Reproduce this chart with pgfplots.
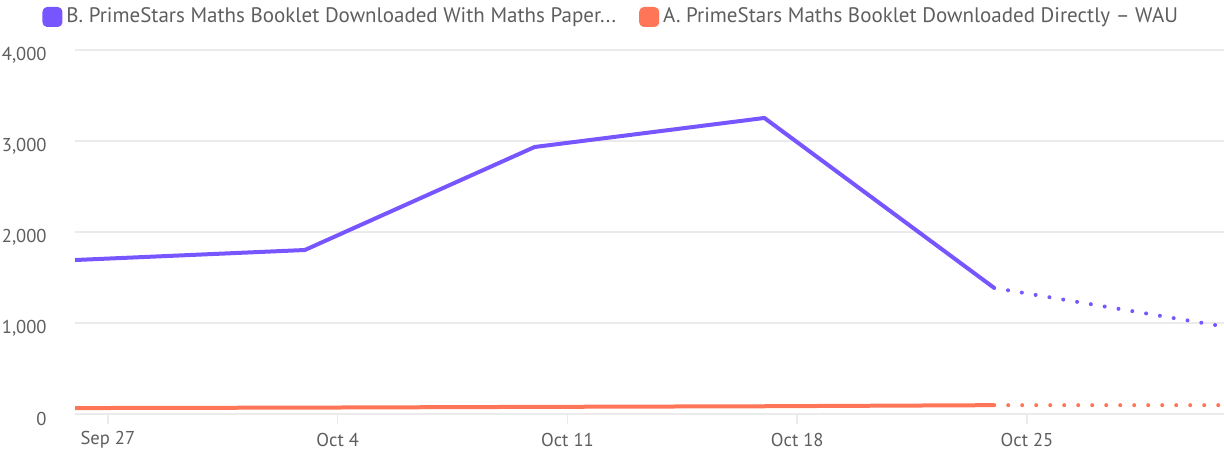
\documentclass[border=0pt]{standalone}
\usepackage{fontspec}
\setmainfont{PT Sans}
\usepackage{pgfplots}
\pgfplotsset{compat=1.18}

\definecolor{bpurple}{HTML}{7856FF}
\definecolor{aorange}{HTML}{FF7557}
\definecolor{txtgray}{HTML}{5E5E5E}
\definecolor{gridgray}{HTML}{EBEBEB}

\begin{document}
\begin{tikzpicture}
\begin{axis}[
  scale only axis,
  width=574.5pt, height=182pt,
  xmin=-1, xmax=34, ymin=0, ymax=4000,
  axis x line=bottom,
  axis y line=left,
  x axis line style={-, draw=gridgray, line width=1pt},
  y axis line style={-, draw=none},
  xtick={0,7,14,21,28},
  xticklabels={Sep 27,Oct 4,Oct 11,Oct 18,Oct 25},
  ytick={0,1000,2000,3000,4000},
  ymajorgrids=true,
  grid style={draw=gridgray, line width=1pt},
  major tick length=5pt,
  xtick style={draw=gridgray, line width=0.8pt},
  ytick style={draw=none},
  xtick align=outside,
  /pgf/number format/1000 sep={,},
  /pgf/number format/assume math mode=true,
  tick label style={font=\fontsize{9.3}{11}\selectfont, text=txtgray},
  xticklabel style={inner sep=0pt, anchor=center, yshift=-8pt},
  yticklabel style={inner sep=0pt, anchor=east, xshift=-11.5pt, yshift=-2.5pt},
  legend columns=2,
  legend cell align=left,
  legend style={at={(rel axis cs:-0.0287,1.0907)}, anchor=west, draw=none, fill=none,
    inner sep=0pt, font=\fontsize{10.5}{12}\selectfont, text=txtgray,
    /tikz/every even column/.append style={column sep=9.5pt}},
  legend image code/.code={\fill[#1, rounded corners=1.5pt] (0pt,-4pt) rectangle (8pt,4pt);},
  clip=false,
]
\addplot[bpurple, line width=2pt, line join=round] coordinates {
  (-1,1692) (6,1802) (13,2934) (20,3253) (27,1385)
};
\addlegendentry{B. PrimeStars Maths Booklet Downloaded With Maths Paper...}
\addplot[aorange, line width=2pt, line join=round] coordinates {
  (-1,65) (6,70) (13,78) (20,85) (27,97)
};
\addlegendentry{A. PrimeStars Maths Booklet Downloaded Directly – WAU}
\addplot[bpurple, line width=2pt, line cap=round, dash pattern=on 0pt off 7pt, forget plot] coordinates {
  (27,1385) (33.9,967)
};
\addplot[aorange, line width=2pt, line cap=round, dash pattern=on 0pt off 7pt, forget plot] coordinates {
  (27,97) (33.9,97)
};
\coordinate (bbl) at (rel axis cs:-0.0653,-0.1099);
\coordinate (btr) at (rel axis cs:1,1.1374);
\end{axis}
\pgfresetboundingbox
\useasboundingbox (bbl) rectangle (btr);
\end{tikzpicture}
\end{document}
